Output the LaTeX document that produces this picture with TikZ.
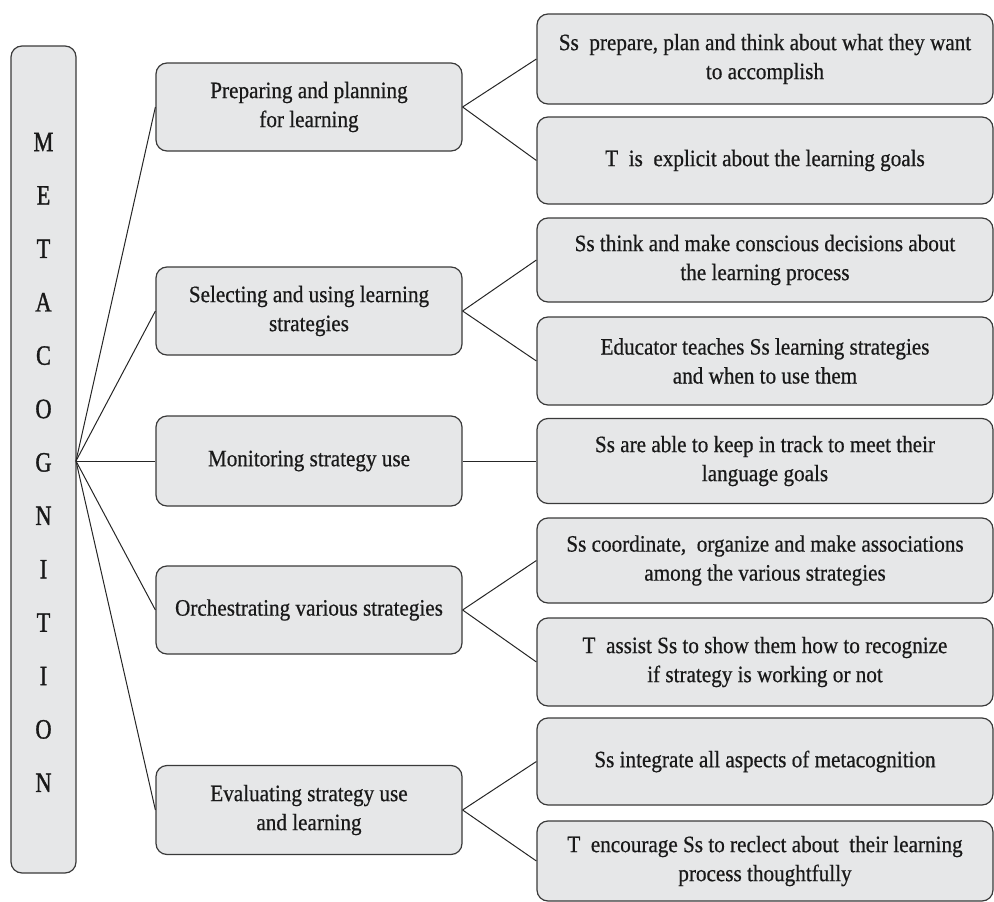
\documentclass[tikz,border=0pt]{standalone}
\usepackage{fontspec}
\setmainfont[FakeStretch=0.9,FakeBold=0.6]{Liberation Serif}
\newfontfamily\letterfont[FakeStretch=0.8,FakeBold=1.2]{Liberation Serif}
\definecolor{boxfill}{HTML}{E6E7E8}
\definecolor{boxline}{HTML}{3A3A3A}
\begin{document}
\begin{tikzpicture}[x=1pt,y=-1pt,
  box/.style={draw=boxline, line width=1.2pt, fill=boxfill, rounded corners=11pt,
    inner sep=0pt, align=center, text=black!90, font=\fontsize{23.5}{29}\selectfont},
  midbox/.style={box, minimum width=306pt},
  rbox/.style={box, minimum width=456pt},
  conn/.style={draw=black!85, line width=1pt},
  letter/.style={font=\letterfont\fontsize{28}{30}\selectfont, inner sep=0pt, text=black!90}]
\useasboundingbox (0,0) rectangle (994,902);

% left column
\node[box, minimum width=65pt, minimum height=827pt] (L) at (43.5,459.5) {};
\foreach \ch [count=\i from 0] in {M,E,T,A,C,O,G,N,I,T,I,O,N}
  \node[letter] (l\i) at (43.5,{142+\i*53.4}) {\ch};
\coordinate (F) at (76,461);

% middle column
\node[midbox, minimum height=88pt] (m1) at (309,107) {Preparing and planning\\for learning};
\node[midbox, minimum height=88pt] (m2) at (309,311) {Selecting and using learning\\strategies};
\node[midbox, minimum height=90pt] (m3) at (309,461) {Monitoring strategy use};
\node[midbox, minimum height=88pt] (m4) at (309,610) {Orchestrating various strategies};
\node[midbox, minimum height=89pt] (m5) at (309,810) {Evaluating strategy use\\and learning};

% right column
\node[rbox, minimum height=90pt] (r1) at (765,59) {Ss\ \ prepare, plan and think about what they want\\to accomplish};
\node[rbox, minimum height=87pt] (r2) at (765,160.5) {T\ \ is\ \ explicit about the learning goals};
\node[rbox, minimum height=84pt] (r3) at (765,260) {Ss think and make conscious decisions about\\the learning process};
\node[rbox, minimum height=88pt] (r4) at (765,361) {Educator teaches Ss learning strategies\\and when to use them};
\node[rbox, minimum height=85pt] (r5) at (765,461) {Ss are able to keep in track to meet their\\language goals};
\node[rbox, minimum height=85pt] (r6) at (765,560.5) {Ss coordinate,\ \ organize and make associations\\among the various strategies};
\node[rbox, minimum height=88pt] (r7) at (765,662) {T\ \ assist Ss to show them how to recognize\\if strategy is working or not};
\node[rbox, minimum height=87pt] (r8) at (765,761.5) {Ss integrate all aspects of metacognition};
\node[rbox, minimum height=80pt] (r9) at (765,861) {T\ \ encourage Ss to reclect about\ \ their learning\\process thoughtfully};

% connectors
\foreach \m in {m1,m2,m3,m4,m5}
  \draw[conn] (F) -- (\m.west);
\draw[conn] (m1.east) -- (r1.west);
\draw[conn] (m1.east) -- (r2.west);
\draw[conn] (m2.east) -- (r3.west);
\draw[conn] (m2.east) -- (r4.west);
\draw[conn] (m3.east) -- (r5.west);
\draw[conn] (m4.east) -- (r6.west);
\draw[conn] (m4.east) -- (r7.west);
\draw[conn] (m5.east) -- (r8.west);
\draw[conn] (m5.east) -- (r9.west);
\end{tikzpicture}
\end{document}
